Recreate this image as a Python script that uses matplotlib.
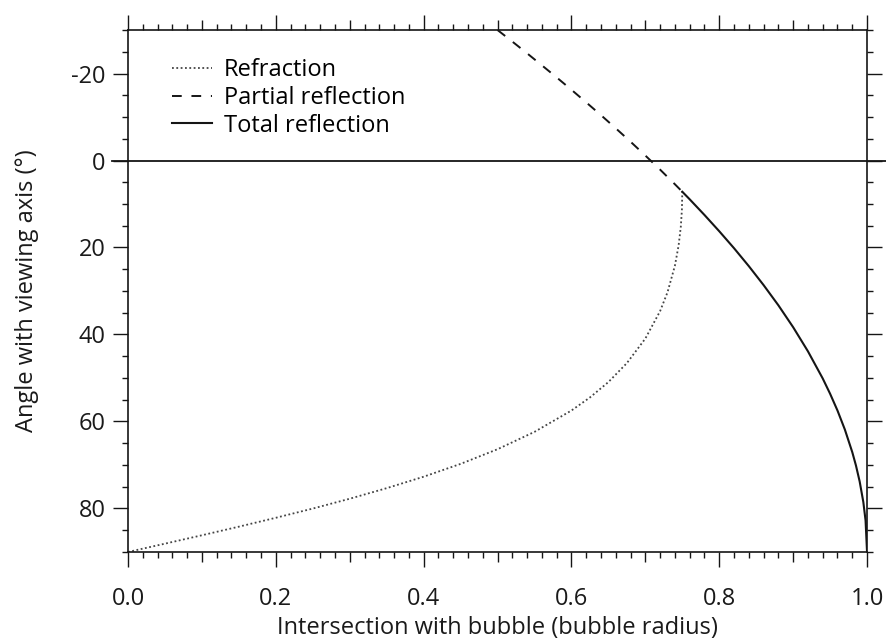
import numpy as np
import matplotlib
matplotlib.use("Agg")
import matplotlib.pyplot as plt
from matplotlib.ticker import MultipleLocator

plt.rcParams['font.family'] = ['Open Sans', 'DejaVu Sans']
plt.rcParams['axes.unicode_minus'] = False

# ray through bubble: refracted branch (b < critical)
b_refr = [0.0, 0.05, 0.10, 0.15, 0.20, 0.25, 0.30, 0.35, 0.40, 0.45, 0.50,
          0.55, 0.60, 0.625, 0.65, 0.675, 0.70, 0.72, 0.73, 0.74, 0.745,
          0.748, 0.7495, 0.75]
ang_refr = [90.0, 88.09, 86.16, 84.18, 82.14, 80.02, 77.76, 75.33, 72.70,
            69.75, 66.38, 62.39, 57.48, 54.48, 50.94, 46.58, 40.94, 34.62,
            30.30, 24.20, 19.56, 15.22, 11.28, 7.18]

# partially reflected branch
b_part = [0.50, 0.52, 0.54, 0.56, 0.58, 0.60, 0.62, 0.64, 0.66, 0.68, 0.70,
          0.72, 0.74, 0.75]
ang_part = [-30.0, -27.34, -24.64, -21.88, -19.10, -16.26, -13.36, -10.42,
            -7.40, -4.32, -1.14, 2.10, 5.46, 7.18]

# totally reflected branch
b_tot = [0.75, 0.76, 0.78, 0.80, 0.82, 0.84, 0.86, 0.88, 0.90, 0.92, 0.94,
         0.95, 0.96, 0.97, 0.98, 0.985, 0.99, 0.995, 0.998, 1.0]
ang_tot = [7.18, 8.92, 12.52, 16.26, 20.16, 24.28, 28.64, 33.28, 38.32,
           43.86, 50.10, 53.62, 57.48, 61.86, 67.04, 70.12, 73.78, 78.54,
           82.76, 90.0]

fig = plt.figure(figsize=(8.86, 6.44), dpi=100)
ax = fig.add_axes([0.1445, 0.1429, 0.8341, 0.8105])

ink = '#151515'
txt = '#1a1a1a'
fs = 17

ax.plot(b_refr, ang_refr, color='#444444', lw=1.3, ls=(0, (1, 1.4)), label='Refraction')
ax.plot(b_part, ang_part, color=ink, lw=1.4, ls=(0, (5, 5)), label='Partial reflection')
ax.plot(b_tot, ang_tot, color=ink, lw=1.5, label='Total reflection')
ax.axhline(0, xmin=-0.022, xmax=1.03, color=ink, lw=1.3, clip_on=False)

ax.set_xlim(0, 1.0)
ax.set_ylim(90, -30)

ax.xaxis.set_major_locator(MultipleLocator(0.2))
ax.xaxis.set_minor_locator(MultipleLocator(0.02))
ax.yaxis.set_major_locator(MultipleLocator(20))
ax.yaxis.set_minor_locator(MultipleLocator(5))
ax.xaxis.set_major_formatter(plt.FuncFormatter(lambda v, p: f'{v:.1f}'))

ax.tick_params(which='both', direction='out', top=True, right=True,
               color=ink, width=1.0, labelsize=fs, labelcolor=txt)
ax.tick_params(which='major', length=11, pad=5)
ax.tick_params(which='minor', length=4)
ax.tick_params(axis='x', which='major', pad=14)

# medium ticks at the odd tenths
locs = ax.xaxis.get_minorticklocs()
for t, v in zip(ax.xaxis.get_minor_ticks(len(locs)), locs):
    if abs(v * 10 - round(v * 10)) < 1e-6:
        t.tick1line.set_markersize(7.5)
        t.tick2line.set_markersize(7.5)

for s in ax.spines.values():
    s.set_linewidth(1.2)
    s.set_color(ink)

ax.set_xlabel('Intersection with bubble (bubble radius)', fontsize=fs,
              color=txt, labelpad=4)
ax.set_ylabel('Angle with viewing axis (°)', fontsize=fs, color=txt,
              labelpad=23)

ax.legend(loc='upper left', bbox_to_anchor=(0.059, 0.946), frameon=False,
          fontsize=fs, handlelength=1.7, handletextpad=0.5, labelspacing=0.16,
          borderpad=0, borderaxespad=0)

fig.savefig('out.png', dpi=100)
